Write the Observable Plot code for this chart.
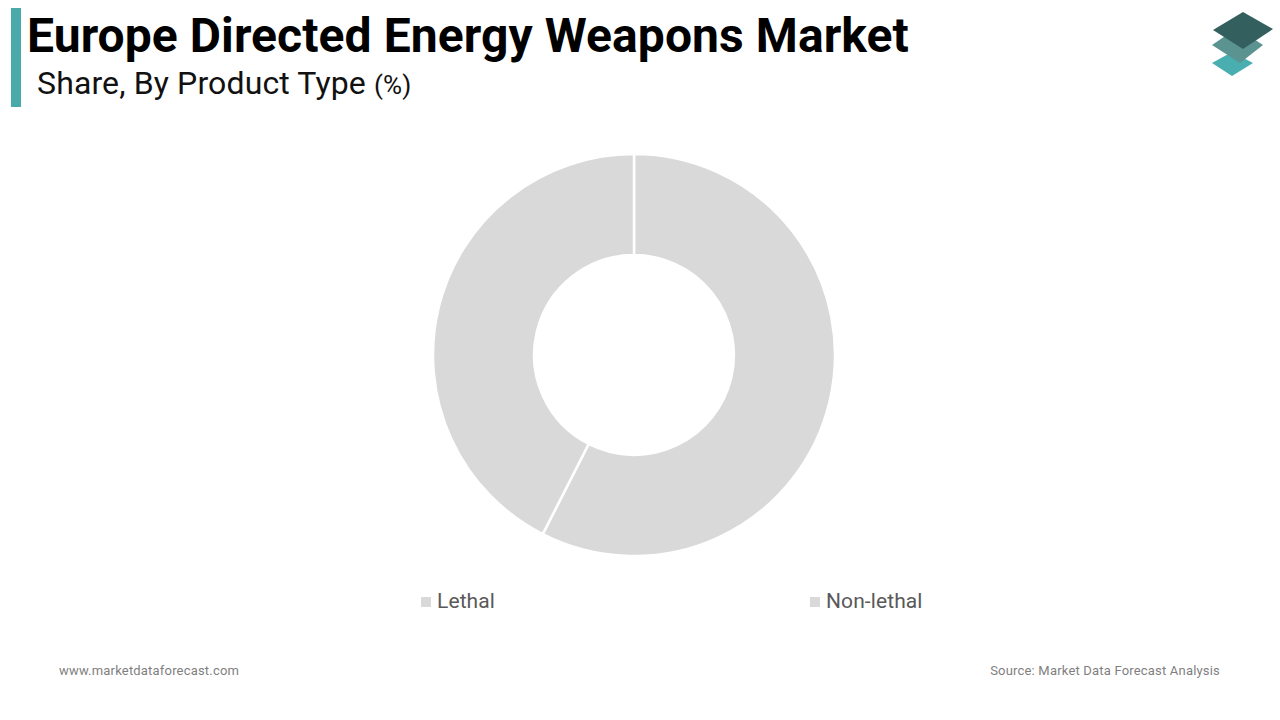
<!DOCTYPE html>
<html>
<head>
<meta charset="utf-8">
<script src="https://cdn.jsdelivr.net/npm/d3@7"></script>
<script src="https://cdn.jsdelivr.net/npm/@observablehq/plot@0.6"></script>
<style>
  html, body { margin: 0; padding: 0; background: #fff; width: 1280px; height: 720px; overflow: hidden; font-family: Roboto, sans-serif; }
  .abs { position: absolute; white-space: nowrap; line-height: 1; }
  #bar { left: 11px; top: 8px; width: 10px; height: 99px; background: #4aa9ab; }
  #title { left: 27px; top: 11.5px; font-size: 48px; font-weight: 700; color: #000; letter-spacing: .08px; }
  #subtitle { left: 37px; top: 67px; font-size: 32px; color: #111; letter-spacing: .13px; }
  #subtitle span { font-size: 26px; }
  .swatch { position: absolute; width: 10px; height: 10px; background: #d9d9d9; top: 597px; }
  .legend { top: 591px; font-size: 21px; color: #595959; letter-spacing: .1px; }
  .foot { top: 664px; font-size: 13px; color: #7f7f7f; letter-spacing: .19px; }
  #chart { position: absolute; left: 433px; top: 154px; }
  #chart svg { display: block; }
  #logo { position: absolute; left: 1200px; top: 5px; }
</style>
</head>
<body>
<div id="bar" class="abs"></div>
<div id="title" class="abs">Europe Directed Energy Weapons Market</div>
<div id="subtitle" class="abs">Share, By Product Type <span>(%)</span></div>
<svg id="logo" width="80" height="76" viewBox="0 0 80 76">
  <path d="M12 58 L32 47 L53 58 L32 71 Z" fill="#48aeb0"/>
  <path d="M12 40 L37 23 L63 40 L40 58 Z" fill="#5b9391"/>
  <path d="M13 25 L43 7 L73 24 L43 44 Z" fill="#33605f"/>
</svg>
<div id="chart"></div>
<div class="swatch" style="left:421px"></div>
<div class="abs legend" style="left:437px">Lethal</div>
<div class="swatch" style="left:810px"></div>
<div class="abs legend" style="left:826px">Non-lethal</div>
<div class="abs foot" style="left:59px">www.marketdataforecast.com</div>
<div class="abs foot" style="right:60px">Source: Market Data Forecast Analysis</div>
<script>
const categories = ["Lethal", "Non-lethal"];
const shares = [57.5, 42.5];
const sliceColors = ["#d9d9d9", "#d9d9d9"];

const table = categories.map((name, i) => ({ name, share: shares[i] }));
const innerRatio = 0.497;

function donut(index, scales, values, dimensions) {
  const cx = dimensions.width / 2;
  const cy = dimensions.height / 2;
  const outer = Math.min(cx, cy);
  const arc = d3.arc().innerRadius(outer * innerRatio).outerRadius(outer);
  const g = d3.create("svg:g").attr("transform", `translate(${cx},${cy})`);
  for (const i of index) {
    g.append("path")
      .attr("d", arc({ startAngle: values.x1[i], endAngle: values.x2[i] }))
      .attr("fill", values.fill[i])
      .attr("stroke", "#fff")
      .attr("stroke-width", 2.5);
  }
  return g.node();
}

const plot = Plot.plot({
  width: 402,
  height: 402,
  margin: 0,
  x: { axis: null, domain: [0, 100], range: [0, 2 * Math.PI] },
  color: { domain: categories, range: sliceColors },
  marks: [
    Plot.barX(table, Plot.stackX({ x: "share", fill: "name", render: donut }))
  ]
});
document.getElementById("chart").append(plot);
</script>
</body>
</html>
